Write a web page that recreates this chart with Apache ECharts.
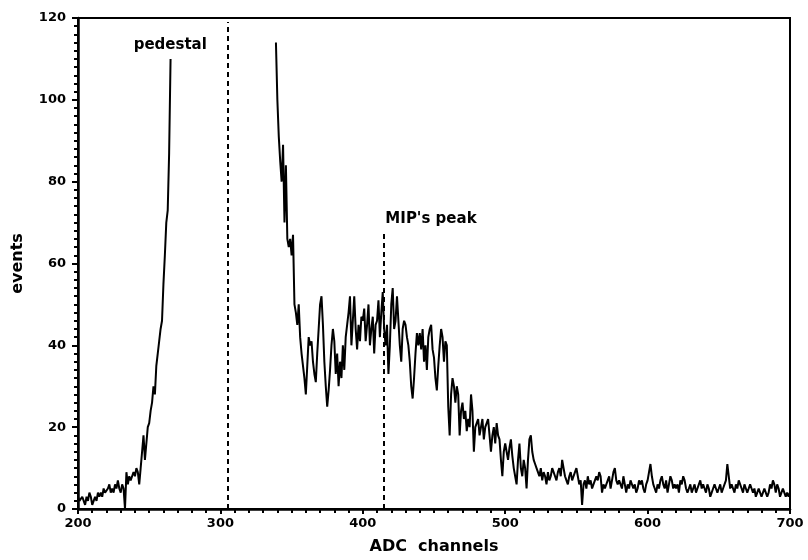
<!DOCTYPE html>
<html>
<head>
<meta charset="utf-8">
<script src="https://cdn.jsdelivr.net/npm/echarts@6/dist/echarts.min.js"></script>
<style>
  html, body { margin: 0; padding: 0; background: #fff; }
  #chart { width: 808px; height: 560px; }
</style>
</head>
<body>
<div id="chart"></div>
<script>
// ---- data ----
const xTicks = [200, 300, 400, 500, 600, 700];
const yTicks = [0, 20, 40, 60, 80, 100, 120];

// pedestal region: channels 200..265
const pedestalStart = 200;
const pedestalCounts = [
  3,2,2,3,2,1,3,2,4,3,
  1,2,3,2,4,3,4,3,5,4,
  4,5,6,4,5,4,6,5,7,5,
  4,6,5,0,9,6,8,7,8,9,
  8,10,9,6,10,14,18,12,16,20,
  21,24,26,30,28,35,38,41,44,46,
  55,62,70,73,87,110
];

// signal region: channels 339..700
const signalStart = 339;
const signalCounts = [
  114,100,91,85,80,89,70,84,66,64,66,
  62,67,50,48,45,50,42,38,35,32,
  28,35,42,40,41,36,33,31,38,44,
  50,52,45,36,30,25,29,34,40,44,
  41,33,38,30,36,32,40,34,42,45,
  48,52,40,46,52,44,39,45,41,47,
  46,49,41,45,50,40,44,47,38,45,
  46,51,42,48,53,44,40,45,33,40,
  50,54,44,46,52,46,40,36,44,46,
  45,42,40,36,30,27,32,38,43,40,
  43,39,44,36,40,34,42,44,45,39,
  37,32,29,35,40,44,42,36,41,40,
  25,18,28,32,30,26,30,28,18,24,
  26,22,24,19,22,20,28,24,14,20,
  21,22,18,20,22,17,20,21,22,18,
  14,18,20,16,21,18,17,12,8,14,
  16,14,12,15,17,13,10,8,6,12,
  16,10,8,12,10,5,12,17,18,14,
  12,11,10,9,8,10,7,9,8,6,
  9,7,8,10,9,8,7,9,10,8,
  12,10,8,7,6,8,9,7,8,9,
  10,8,6,7,1,6,7,5,8,6,
  7,5,6,7,8,7,9,8,4,6,
  5,6,7,8,5,7,9,10,7,6,
  7,6,5,8,6,4,6,5,7,6,
  5,6,4,5,7,6,7,5,4,6,
  7,9,11,8,6,5,4,6,5,7,
  8,6,5,7,4,6,8,7,5,6,
  5,6,4,7,6,8,7,5,4,5,
  6,4,5,6,4,5,6,7,5,6,
  5,4,6,5,3,4,5,6,5,4,
  5,6,4,5,6,7,11,8,5,6,
  5,4,6,5,7,6,5,4,6,5,
  4,5,6,5,4,5,3,4,5,4,
  3,4,5,4,3,4,6,5,7,6,
  4,6,5,3,4,5,4,3,4,3,
  4
];

// dashed marker lines
const markerChannels = [305, 415];
const markerTops = [119, 67.5];

// annotations
const noteTexts = ['pedestal', "MIP's peak"];
const noteChannels = [264.8, 415.5];
const noteValues = [113.4, 70.9];
const noteAligns = ['center', 'left'];

// ---- chart ----
const FONT = 'DejaVu Sans';
const pedestalData = pedestalCounts.map((v, i) => [pedestalStart + i, v]);
const signalData = signalCounts.map((v, i) => [signalStart + i, v]);

const lineStyle = { color: '#000', width: 2 };

const chart = echarts.init(document.getElementById('chart'), null, { renderer: 'canvas' });
chart.setOption({
  animation: false,
  backgroundColor: '#fff',
  grid: {
    left: 78, right: 18, top: 18, bottom: 51,
    show: true, borderColor: '#000', borderWidth: 2, backgroundColor: 'transparent'
  },
  xAxis: {
    type: 'value',
    min: xTicks[0], max: xTicks[xTicks.length - 1], interval: 100,
    name: 'ADC  channels',
    nameLocation: 'middle',
    nameGap: 30,
    nameTextStyle: { fontFamily: FONT, fontSize: 16, fontWeight: 'bold', color: '#000' },
    axisLine: { show: true, lineStyle: { color: '#000', width: 2.5 } },
    axisTick: { show: true, inside: false, length: 5, lineStyle: { color: '#000', width: 2 } },
    minorTick: { show: true, splitNumber: 10, length: 4, lineStyle: { color: '#000', width: 2 } },
    axisLabel: { fontFamily: FONT, fontSize: 13, fontWeight: 'bold', color: '#000', margin: 8 },
    splitLine: { show: false }
  },
  yAxis: {
    type: 'value',
    min: yTicks[0], max: yTicks[yTicks.length - 1], interval: 20,
    name: 'events',
    nameLocation: 'middle',
    nameGap: 52,
    nameTextStyle: { fontFamily: FONT, fontSize: 16, fontWeight: 'bold', color: '#000' },
    axisLine: { show: true, lineStyle: { color: '#000', width: 2.5 } },
    axisTick: { show: true, inside: false, length: 6, lineStyle: { color: '#000', width: 2 } },
    minorTick: { show: true, splitNumber: 10, length: 4, lineStyle: { color: '#000', width: 2 } },
    axisLabel: { fontFamily: FONT, fontSize: 13, fontWeight: 'bold', color: '#000', margin: 12 },
    splitLine: { show: false }
  },
  series: [
    {
      type: 'line',
      data: pedestalData,
      showSymbol: false,
      symbol: 'none',
      lineStyle: lineStyle,
      itemStyle: { color: '#000' },
      markLine: {
        silent: true,
        symbol: ['none', 'none'],
        label: { show: false },
        lineStyle: { color: '#000', width: 2, type: [5, 4] },
        data: markerChannels.map((c, i) => [
          { coord: [c, 0] },
          { coord: [c, markerTops[i]] }
        ])
      }
    },
    {
      type: 'line',
      data: signalData,
      showSymbol: false,
      symbol: 'none',
      lineStyle: lineStyle,
      itemStyle: { color: '#000' }
    },
    {
      type: 'scatter',
      symbolSize: 1,
      itemStyle: { color: 'rgba(0,0,0,0)', opacity: 1 },
      silent: true,
      data: noteTexts.map((t, i) => ({
        value: [noteChannels[i], noteValues[i]],
        itemStyle: { opacity: 1 },
        label: {
          show: true,
          formatter: t,
          position: noteAligns[i] === 'left' ? 'right' : 'inside',
          distance: 0,
          fontFamily: FONT,
          fontSize: 15,
          fontWeight: 'bold',
          color: '#000',
          opacity: 1
        }
      }))
    }
  ]
});
</script>
</body>
</html>
